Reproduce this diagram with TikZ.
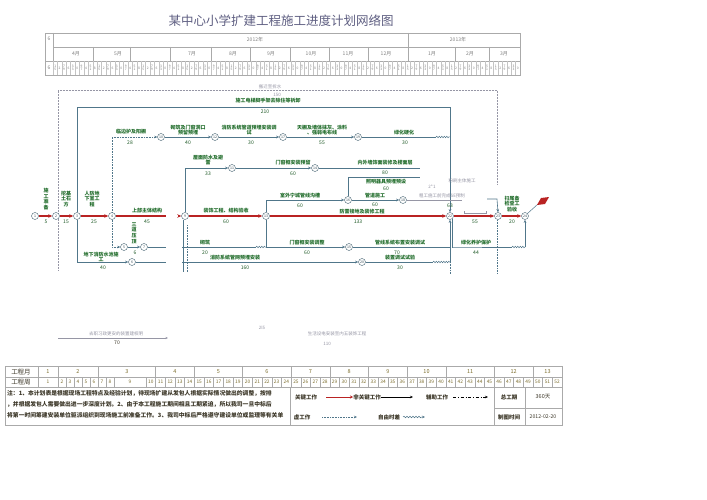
\documentclass[tikz,border=0pt]{standalone}
\usepackage{fontspec}
\setmainfont{Noto Sans CJK SC}
\usetikzlibrary{arrows.meta,decorations.pathmorphing}
\definecolor{lnc}{RGB}{80,118,138}
\definecolor{grn}{RGB}{35,110,45}
\definecolor{crit}{RGB}{185,35,35}
\definecolor{gtx}{RGB}{150,150,165}
\definecolor{tbl}{RGB}{170,170,170}
\definecolor{ttl}{RGB}{95,95,130}
\definecolor{olv}{RGB}{125,110,45}
\definecolor{dtx}{RGB}{60,55,40}
\tikzset{
 ev/.style={circle,draw=lnc!80!black,fill=white,line width=0.4pt,inner sep=0pt,minimum size=7pt,font=\fontsize{3.5}{3.5}\selectfont,text=lnc!60!black},
 lab/.style={font=\fontsize{5}{5.6}\selectfont\bfseries,text=grn,inner sep=0.3pt,align=center},
 dur/.style={font=\fontsize{5}{5}\selectfont,text=grn!80!black,inner sep=0.3pt},
 wk/.style={draw=lnc,line width=0.6pt,-{Stealth[length=3.2pt,width=2.6pt]}},
 wkn/.style={draw=lnc,line width=0.6pt},
 cr/.style={draw=crit,line width=1.5pt,-{Stealth[length=4pt,width=3.5pt]}},
 crn/.style={draw=crit,line width=1.5pt},
 dm/.style={draw=lnc,densely dotted,line width=0.6pt},
 dmg/.style={draw=gtx,densely dotted,line width=0.5pt},
 fl/.style={draw=lnc,line width=0.5pt,decorate,decoration={snake,amplitude=0.7pt,segment length=2.5pt}},
 gt/.style={font=\fontsize{4.5}{5}\selectfont,text=gtx,inner sep=0.3pt},
 tb/.style={draw=tbl,line width=0.5pt},
 tt/.style={font=\fontsize{5}{5}\selectfont,text=gray,inner sep=0pt},
 wn/.style={font=\fontsize{4.8}{5}\selectfont,text=olv,inner sep=0pt},
 mn/.style={font=\fontsize{5.5}{5.5}\selectfont,text=olv,inner sep=0pt},
 note/.style={font=\fontsize{5.8}{6}\selectfont\bfseries,text=dtx,inner sep=0pt,anchor=west},
 lg/.style={font=\fontsize{5.5}{6}\selectfont\bfseries,text=dtx,inner sep=0pt},
}
\begin{document}
\begin{tikzpicture}[x=1pt,y=-1pt]
\useasboundingbox[fill=white] (0,0) rectangle (707,500);

% ---------- title ----------
\node[font=\fontsize{12.5}{13}\selectfont,text=ttl,inner sep=0pt] (title) at (281,21) {某中心小学扩建工程施工进度计划网络图};

% ---------- top time table ----------
\draw[tb] (45,33) rectangle (520,75);
\draw[tb] (53,33) -- (53,75);
\draw[tb] (53,47) -- (520,47);
\draw[tb] (45,61) -- (520,61);
\draw[tb] (408,33) -- (408,47);
\foreach \x in {93,130,170,211,250,290,329,368,408,455,489} \draw[tb] (\x,47) -- (\x,61);
\node[tt] (y0) at (49,39) {6};
\node[tt] (y1) at (255,40) {2012年};
\node[tt] (y2) at (458,40) {2013年};
\node[tt] (m4) at (76,54) {4月};
\node[tt] (m5) at (118,54) {5月};
\node[tt] (m7) at (192,54) {7月};
\node[tt] (m8) at (233,54) {8月};
\node[tt] (m9) at (271,54) {9月};
\node[tt] (m10) at (311,54) {10月};
\node[tt] (m11) at (348,54) {11月};
\node[tt] (m12) at (386,54) {12月};
\node[tt] (m1) at (432,54) {1月};
\node[tt] (m2) at (470,54) {2月};
\node[tt] (m3) at (504,54) {3月};
\node[tt] (r3) at (49,68) {6};
\foreach \i in {0,...,105}{
  \pgfmathsetmacro\xx{53+\i*4.406}
  \pgfmathtruncatemacro\da{mod(\i*7+5,10)}
  \pgfmathtruncatemacro\db{mod(\i*3+1,10)}
  \draw[tbl!70,line width=0.3pt] (\xx,61) -- (\xx,75);
  \ifodd\i
    \node[font=\fontsize{3.3}{3.3}\selectfont,text=gray,inner sep=0pt] at (\xx+2.2,68) {\da};
  \else
    \node[font=\fontsize{3.3}{3.6}\selectfont,text=gray,inner sep=0pt,align=center] at (\xx+2.2,68) {\db\\\da};
  \fi
}

% ---------- network: boundaries ----------
\draw[dmg] (58,270) -- (58,90) -- (497,90) -- (497,185);
\node[gt] (t150a) at (270,87) {搬迁至拆水};
\node[gt] (t150) at (277,95) {150};

% ---------- events ----------
\node[ev] (n1) at (35,216) {1};
\node[ev] (n2) at (56,216) {2};
\node[ev] (n3) at (77,216) {3};
\node[ev] (n4) at (112,216) {4};
\node[ev] (n5) at (124,247) {5};
\node[ev] (n6) at (144,247) {7};
\node[ev] (n7) at (132,262) {6};
\node[ev] (n8) at (185,216) {9};
\node[ev] (n9) at (161,137) {10};
\node[ev] (n10) at (215,137) {12};
\node[ev] (n11) at (232,168) {11};
\node[ev] (n12) at (266,216) {13};
\node[ev] (n13) at (283,137) {17};
\node[ev] (n14) at (358,137) {19};
\node[ev] (n15) at (315,168) {14};
\node[ev] (n16) at (348,200) {16};
\node[ev] (n17) at (403,200) {18};
\node[ev] (n18) at (349,247) {15};
\node[ev] (n19) at (362,262) {20};
\node[ev] (n22) at (450,216) {22};
\node[ev] (n23) at (498,216) {23};
\node[ev] (n24) at (525,216) {24};

% free ends
\coordinate (e4) at (166,216);
\coordinate (s8) at (178,216);
\coordinate (e6) at (166,247);
\coordinate (e7) at (166,262);
\coordinate (s9) at (182,247);
\coordinate (w9) at (256,247);
\coordinate (j9) at (266,247);
\coordinate (s10) at (182,262);
\coordinate (w19) at (433,262);
\coordinate (j19) at (450,262);
\coordinate (j18) at (450,247);
\coordinate (w14) at (436,137);
\coordinate (j14) at (450,137);
\coordinate (tl) at (77,107);
\coordinate (tr) at (450,107);
\coordinate (e15) at (420,168);
\coordinate (z1) at (420,177);
\coordinate (e17) at (462,200);
\coordinate (s23) at (487,199);
\coordinate (k23) at (497,199);
\coordinate (b22) at (453,247);
\coordinate (w24) at (512,247);
\coordinate (k24) at (525,247);

% ---------- critical path ----------
\draw[cr] (n1) -- (n2);
\draw[cr] (n2) -- (n3);
\draw[cr] (n3) -- (n4);
\draw[crn] (n4) -- (e4);
\draw[cr] (s8) -- (n8);
\draw[cr] (n8) -- (n12);
\draw[cr] (n12) -- (n22);
\draw[cr] (n22) -- (n23);
\draw[cr] (n23) -- (n24);
\draw[lnc,line width=0.5pt] (n24.north east) -- (538,204);
\fill[crit] (537,205) -- (541,198) -- (549,197) -- (545,204) -- cycle;

\node[lab] (a1) at (46,199) {施\\工\\准\\备};
\node[dur] (d1) at (46,222) {5};
\node[lab] (a2) at (66,199) {挖基\\土石\\方};
\node[dur] (d2) at (66,222) {15};
\node[lab] (a3) at (92,199) {人防地\\下室工\\程};
\node[dur] (d3) at (94,222) {25};
\node[lab] (a4) at (147,211) {上部主体结构};
\node[dur] (d4) at (147,222) {45};
\node[lab] (a8) at (226,211) {装饰工程、结构验收};
\node[dur] (d8) at (226,222) {60};
\node[lab] (a12) at (362,211.5) {防雷接地及装修工程};
\node[dur] (d12) at (358,222) {133};
\draw[gtx,line width=0.4pt] (464,211) -- (464,213) -- (486,213) -- (486,211);
\node[dur] (d22) at (475,222) {55};
\node[lab] (a23) at (512,204) {扫尾备\\检查工\\验收};
\node[dur] (d23) at (512,222) {20};

% ---------- upper branches ----------
\draw[wkn] (n3.north) -- (tl) -- (tr) -- (j14);
\node[lab] (a31) at (268,101) {施工电梯脚手架去除住等拆卸};
\node[dur] (d31) at (265,112) {210};

\draw[dm,-{Stealth[length=3pt,width=2.5pt]}] (n4.north) |- (n9.west);
\node[lab] (a41) at (131,132) {临边护及阳棚};
\node[dur] (d41) at (130,143) {28};
\draw[wk] (n9) -- (n10);
\node[lab] (a9) at (188,130) {砌筑及门窗洞口\\预留预埋};
\node[dur] (d9) at (188,143) {40};
\draw[wk] (n10) -- (n13);
\node[lab] (a10) at (249,130) {消防系统管道预埋安装调\\试};
\node[dur] (d10) at (251,143) {30};
\draw[wk] (n13) -- (n14);
\node[lab] (a13) at (322,130) {天棚及墙体抹灰、涂料\\、强弱电布线};
\node[dur] (d13) at (322,143) {55};
\draw[wkn] (n14) -- (w14);
\draw[fl] (w14) -- (j14);
\node[lab] (a14) at (404,133) {绿化硬化};
\node[dur] (d14) at (405,143) {30};
\draw[wk] (j14) -- (n22.north);

\draw[wk] (n8.north) |- (n11.west);
\node[lab] (a81) at (208,160) {屋面防水及避\\雷};
\node[dur] (d81) at (208,174) {33};
\draw[wk] (n11) -- (n15);
\node[lab] (a11) at (293,163) {门窗框安装预留};
\node[dur] (d11) at (293,174) {60};
\draw[wkn] (n15) -- (e15);
\node[lab] (a15) at (385,163) {内外墙饰面装修及楼面层};
\node[dur] (d15) at (385,172.5) {80};

\draw[wkn] (n16.north) |- (z1);
\node[lab] (a16b) at (386,182) {照明器具预埋预设};
\node[dur] (d16b) at (386,189) {60};

\draw[wk] (n12.north) |- (n16.west);
\node[lab] (a121) at (300,196) {室外宁城管线沟槽};
\node[dur] (d121) at (300,206) {60};
\draw[wk] (n16) -- (n17);
\node[lab] (a16) at (375,196) {管道施工};
\node[dur] (d16) at (375,205) {60};
\draw[gtx,line width=0.5pt] (n17) -- (e17);
\node[gt] (g1) at (442,196) {粗工施工前完成SE预制};
\node[dur] (d17) at (450,206) {63};
\node[gt] (g2) at (432,187) {2*1};
\node[gt] (g3) at (462,181) {粉刷主体施工};
\draw[wk] (s23) -- (k23) -- (n23.north);

% ---------- lower branches ----------
\draw[dm,-{Stealth[length=3pt,width=2.5pt]}] (n4.south) |- (n5.west);
\draw[wk] (n5) -- (n6);
\node[lab] (a5) at (134,233) {三\\道\\压\\顶};
\node[dur] (d5) at (135,253) {6};
\draw[wkn] (n6) -- (e6);

\draw[wk] (n3.south) |- (n7.west);
\node[lab] (a7) at (101,257) {地下消防水池施\\工};
\node[dur] (d7) at (103,268) {40};
\draw[wkn] (n7) -- (e7);

\draw[wkn] (s9) -- (w9);
\draw[fl] (w9) -- (j9);
\node[lab] (a91) at (205,243) {砌筑};
\node[dur] (d91) at (205,253) {20};
\draw[wkn] (n12.south) -- (j9);
\draw[wk] (j9) -- (n18);
\node[lab] (a18a) at (307,243) {门窗框安装调整};
\node[dur] (d18a) at (307,253) {60};
\draw[wkn] (n18) -- (j18);
\node[lab] (a18) at (400,243) {管线系统布置安装调试};
\node[dur] (d18) at (397,253) {70};

\draw[wk] (s10) -- (n19);
\node[lab] (a10l) at (235,258) {消防系统管网预埋安装};
\node[dur] (d10l) at (245,268) {160};
\draw[wkn] (n19) -- (w19);
\draw[fl] (w19) -- (j19);
\node[lab] (a19) at (400,258) {装置调试试验};
\node[dur] (d19) at (400,268) {30};
\draw[wk] (j19) -- (n22.south);

\draw[wkn] (n22.south east) |- (b22) -- (w24);
\draw[fl] (w24) -- (k24);
\draw[wk] (k24) -- (n24.south);
\node[lab] (a22) at (476,243) {绿化养护保护};
\node[dur] (d22b) at (476,253) {44};

\draw[wkn] (183,220) -- (183,272);
\draw[dm] (187,225) -- (187,272);
\draw[dm] (450,262) -- (450,274);
\draw[dm] (497,220) -- (497,274);

% ---------- loose gray notes ----------
\node[gt] (g4) at (262,328) {2I5};
\coordinate (gl1) at (58,338);
\coordinate (gl2) at (168,338);
\draw[gtx,line width=0.5pt,-{Stealth[length=2.5pt,width=2pt]}] (gl1) -- (gl2);
\node[gt] (g5) at (116,334) {去职习政更安的装置建权明};
\node[dur,text=dtx] (g5d) at (117,343) {70};
\node[gt] (g6) at (337,334) {生活设电安装至内五装饰工程};
\node[gt] (g6d) at (327,344) {110};

% ---------- bottom table ----------
\draw[tb,line width=0.6pt] (5,366) rectangle (562,425);
\draw[tb] (5,377) -- (562,377);
\draw[tb] (5,387) -- (562,387);
\draw[tb] (38,366) -- (38,387);
\draw[tb] (494,408) -- (562,408);
\draw[tb] (290,387) -- (290,425);
\draw[tb] (494,387) -- (494,425);
\draw[tb] (525,387) -- (525,425);
\node[font=\fontsize{6.5}{6.5}\selectfont,text=dtx,inner sep=0pt] (hm) at (21,372) {工程月};
\node[font=\fontsize{6.5}{6.5}\selectfont,text=dtx,inner sep=0pt] (hw) at (21,382) {工程周};
% month separators
\foreach \x in {58,98,155.67,194.37,242.74,291.1,329.8,368.5,407.2,445.9,494.3,533.0} \draw[tb] (\x,366) -- (\x,377);
\foreach \x/\m in {48/1,78/2,126.8/3,175/4,218.5/5,266.9/6,310.4/7,349.1/8,387.8/9,426.5/10,470.1/11,513.6/12,547.5/13} \node[mn] at (\x,372) {\m};
% week cells
\draw[tb] (58,377) -- (58,387);
\node[wn] at (48,382) {1};
\foreach \k in {2,...,8}{
  \pgfmathsetmacro\xa{58+8*(\k-2)}
  \draw[tb] (\xa+8,377) -- (\xa+8,387);
  \node[wn] at (\xa+4,382) {\k};
}
\node[wn] at (130,382) {9};
\draw[tb] (146,377) -- (146,387);
\foreach \k in {10,...,52}{
  \pgfmathsetmacro\xa{146+9.674*(\k-10)}
  \draw[tb] (\xa+9.674,377) -- (\xa+9.674,387);
  \node[wn] at (\xa+4.837,382) {\k};
}
% notes
\node[note] (nt1) at (7,393) {注：1、本计划表是根据现场工程特点及经验计划，待现场扩建从发包人根据实际情况做出的调整，按排};
\node[note] (nt2) at (7,404) {，并根据发包人需要做出进一步深度计划。2、由于本工程施工期间相且工期紧迫，所以我司一旦中标后};
\node[note] (nt3) at (7,415) {将第一时间筹建安装单位驱派组织到现场施工前准备工作。3、我司中标后严格遵守建设单位或监理等有关单};
% legend
\node[lg] (l1) at (306,397) {关键工作};
\coordinate (l1a) at (326,397); \coordinate (l1b) at (353,397);
\draw[crit,line width=1pt,-{Stealth[length=3pt,width=3pt]}] (l1a) -- (l1b);
\node[lg] (l2) at (367,397) {非关键工作};
\coordinate (l2a) at (381,397); \coordinate (l2b) at (413,397);
\draw[black,line width=0.5pt,-{Stealth[length=3pt,width=2.5pt]}] (l2a) -- (l2b);
\node[lg] (l3) at (437,397) {辅助工作};
\coordinate (l3a) at (453,397); \coordinate (l3b) at (488,397);
\draw[black,line width=0.5pt,dash dot,-{Stealth[length=3pt,width=2.5pt]}] (l3a) -- (l3b);
\node[lg] (l4) at (302,417) {虚工作};
\coordinate (l4a) at (322,417); \coordinate (l4b) at (357,417);
\draw[lnc,line width=0.6pt,densely dotted,-{Stealth[length=3pt,width=2.5pt]}] (l4a) -- (l4b);
\node[lg] (l5) at (389,417) {自由时差};
\coordinate (l5a) at (403,417); \coordinate (l5b) at (425,417);
\draw[lnc,line width=0.5pt,decorate,decoration={snake,amplitude=0.8pt,segment length=3pt,post length=3pt},-{Stealth[length=3pt,width=2.5pt]}] (l5a) -- (l5b);
\node[lg] (l6) at (509,397) {总工期};
\node[lg,font=\fontsize{5.5}{6}\selectfont] (l7) at (543,397) {360天};
\node[lg] (l8) at (509,417) {制图时间};
\node[lg,font=\fontsize{5.2}{6}\selectfont] (l9) at (543,417) {2012-02-20};
\end{tikzpicture}
\end{document}
